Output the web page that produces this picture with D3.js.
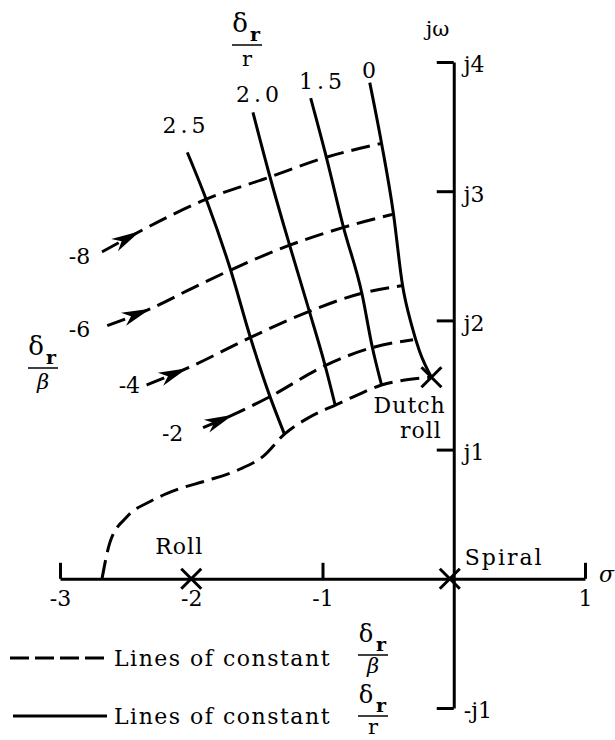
<!DOCTYPE html>
<html>
<head>
<meta charset="utf-8">
<script src="https://cdn.jsdelivr.net/npm/d3@7"></script>
<style>
body { margin: 0; background: #fff; }
text { font-family: "DejaVu Serif", serif; fill: #000; }
</style>
</head>
<body>
<div id="chart"></div>
<script>
let margin = {top: 62, right: 30, left: 60, bottom: 32};
let width = 615;
let height = 740;

// axis ticks
let sigmaTicks = [-3, -2, -1, 1];
let omegaTicks = [-1, 1, 2, 3, 4];
let omegaLabels = ["-j1", "j1", "j2", "j3", "j4"];

// poles (sigma, omega)
let poles = [[-2, 0], [-0.03, 0], [-0.17, 1.56]];

// lines of constant dr/r (solid)
let rValues = ["2.5", "2.0", "1.5", "0"];
let rLine25 = [[-2.03, 3.30], [-1.88, 2.92], [-1.70, 2.39], [-1.55, 1.87], [-1.40, 1.41], [-1.29, 1.12]];
let rLine20 = [[-1.53, 3.61], [-1.40, 3.11], [-1.25, 2.58], [-1.10, 2.07], [-0.98, 1.65], [-0.905, 1.35]];
let rLine15 = [[-1.09, 3.72], [-0.97, 3.26], [-0.84, 2.72], [-0.70, 2.21], [-0.62, 1.79], [-0.55, 1.50]];
let rLine0 = [[-0.64, 3.84], [-0.55, 3.37], [-0.46, 2.83], [-0.39, 2.27], [-0.32, 1.96], [-0.26, 1.76], [-0.17, 1.56]];
// label anchors for the solid lines
let rLabelPos = [[-2.04, 3.45], [-1.48, 3.69], [-1.0, 3.79], [-0.63, 3.88]];

// lines of constant dr/beta (dashed)
let bValues = ["-8", "-6", "-4", "-2"];
let bLine8 = [[-2.68, 2.53], [-2.39, 2.69], [-2.16, 2.81], [-1.88, 2.94], [-1.40, 3.11], [-0.98, 3.26], [-0.55, 3.37]];
let bLine6 = [[-2.64, 1.96], [-2.31, 2.09], [-2.03, 2.23], [-1.70, 2.39], [-1.255, 2.58], [-0.84, 2.72], [-0.47, 2.82]];
let bLine4 = [[-2.34, 1.50], [-2.03, 1.63], [-1.545, 1.87], [-1.10, 2.07], [-0.70, 2.21], [-0.39, 2.27]];
let bLine2 = [[-1.91, 1.17], [-1.68, 1.27], [-1.40, 1.41], [-0.98, 1.65], [-0.62, 1.79], [-0.31, 1.85]];
let bLine0 = [[-2.68, 0.0], [-2.62, 0.28], [-2.49, 0.48], [-2.31, 0.60], [-2.11, 0.69], [-1.88, 0.76], [-1.65, 0.84],
              [-1.45, 0.95], [-1.29, 1.12], [-1.10, 1.25], [-0.89, 1.35], [-0.74, 1.42], [-0.55, 1.50], [-0.36, 1.54], [-0.17, 1.56]];
let bLabelPos = [[-2.77, 2.44], [-2.77, 1.87], [-2.39, 1.44], [-2.06, 1.07]];

let svg = d3.select("#chart")
    .append("svg")
    .attr("width", width)
    .attr("height", height);

let x = d3.scaleLinear()
    .domain([-3, 1])
    .range([margin.left, width - margin.right]);
let y = d3.scaleLinear()
    .domain([-1, 4])
    .range([height - margin.bottom, margin.top]);

// sigma axis, ticks pointing up
let xAxis = d3.axisBottom(x)
    .tickValues(sigmaTicks)
    .tickSizeInner(-16)
    .tickSizeOuter(0)
    .tickPadding(9)
    .tickFormat(d => d < 0 ? "-" + Math.abs(d) : d);

let gx = svg.append("g")
    .attr("transform", "translate(0," + y(0) + ")")
    .call(xAxis);
gx.selectAll(".tick").filter(d => d === -2).select("line").remove();

// j-omega axis, ticks pointing left, labels right
let yAxis = d3.axisRight(y)
    .tickValues(omegaTicks)
    .tickSizeInner(-17)
    .tickSizeOuter(0)
    .tickPadding(10)
    .tickFormat((d, i) => omegaLabels[i]);

let gy = svg.append("g")
    .attr("transform", "translate(" + x(0) + ",0)")
    .call(yAxis);

[gx, gy].forEach(g => {
    g.select(".domain").attr("stroke-width", 3);
    g.selectAll(".tick line").attr("stroke-width", 3);
    g.selectAll("text")
        .style("font-family", "DejaVu Serif")
        .style("font-size", "22px")
        .attr("fill", "#000");
});
gy.selectAll("text").attr("dy", "0.45em");
gx.selectAll("text").attr("dy", "0.85em");

svg.append("text").attr("x", x(1) + 14).attr("y", y(0) + 3)
    .style("font-size", "22px").style("font-style", "italic").text("σ");
svg.append("text").attr("x", x(0) - 28).attr("y", 36)
    .style("font-size", "21px").text("jω");

let line = d3.line()
    .x(d => x(d[0]))
    .y(d => y(d[1]))
    .curve(d3.curveMonotoneX);

let solidLines = [rLine25, rLine20, rLine15, rLine0];
let dashedLines = [bLine8, bLine6, bLine4, bLine2, bLine0];

svg.selectAll(".solid")
    .data(solidLines)
    .enter()
    .append("path")
    .attr("class", "solid")
    .attr("d", line)
    .attr("fill", "none")
    .attr("stroke", "#000")
    .attr("stroke-width", 3);

svg.selectAll(".dashed")
    .data(dashedLines)
    .enter()
    .append("path")
    .attr("class", "dashed")
    .attr("d", line)
    .attr("fill", "none")
    .attr("stroke", "#000")
    .attr("stroke-width", 3)
    .attr("stroke-dasharray", "19,8");

// arrowheads on the incoming dashed lines (tip at the second point)
[bLine8, bLine6, bLine4, bLine2].forEach(pts => {
    let a = pts[0], b = pts[1];
    let ang = Math.atan2(y(b[1]) - y(a[1]), x(b[0]) - x(a[0])) * 180 / Math.PI;
    svg.append("path")
        .attr("d", "M0,0L-29,-7L-21,0L-29,7Z")
        .attr("transform", "translate(" + x(b[0]) + "," + y(b[1]) + ") rotate(" + ang + ")")
        .attr("fill", "#000");
});

// labels
svg.selectAll(".rlab")
    .data(rValues)
    .enter()
    .append("text")
    .attr("x", (d, i) => x(rLabelPos[i][0]))
    .attr("y", (d, i) => y(rLabelPos[i][1]))
    .attr("text-anchor", "middle")
    .style("font-size", "22px")
    .style("letter-spacing", "4px")
    .text(d => d);

svg.selectAll(".blab")
    .data(bValues)
    .enter()
    .append("text")
    .attr("x", (d, i) => x(bLabelPos[i][0]))
    .attr("y", (d, i) => y(bLabelPos[i][1]))
    .attr("text-anchor", "end")
    .style("font-size", "22px")
    .text(d => d);

// poles
poles.forEach(p => {
    let cx = x(p[0]), cy = y(p[1]), s = 10;
    svg.append("path")
        .attr("d", "M" + (cx - s) + "," + (cy - s) + "L" + (cx + s) + "," + (cy + s) +
                   "M" + (cx - s) + "," + (cy + s) + "L" + (cx + s) + "," + (cy - s))
        .attr("stroke", "#000")
        .attr("stroke-width", 3);
});

svg.append("text").attr("x", x(-2) - 12).attr("y", y(0) - 25)
    .attr("text-anchor", "middle").style("font-size", "22px").style("letter-spacing", "1px").text("Roll");
svg.append("text").attr("x", x(0) + 11).attr("y", y(0) - 14)
    .style("font-size", "22px").style("letter-spacing", "2px").text("Spiral");
svg.append("text").attr("x", x(0) - 8).attr("y", 413)
    .attr("text-anchor", "end").style("font-size", "22px").style("letter-spacing", "1px").text("Dutch");
svg.append("text").attr("x", x(0) - 12).attr("y", 438)
    .attr("text-anchor", "end").style("font-size", "22px").style("letter-spacing", "1px").text("roll");

function frac(cx, ly, denom, dy, size) {
    let g = svg.append("g").attr("transform", "translate(" + cx + "," + ly + ")");
    g.append("text").attr("x", -7).attr("y", -13).attr("text-anchor", "middle")
        .style("font-size", size + "px").text("δ");
    g.append("text").attr("x", 8).attr("y", -4).attr("text-anchor", "middle")
        .style("font-size", "19px").style("font-weight", "bold").text("r");
    g.append("line").attr("x1", -15).attr("x2", 15)
        .attr("stroke", "#000").attr("stroke-width", 1.5);
    g.append("text").attr("x", 0).attr("y", dy).attr("text-anchor", "middle")
        .style("font-size", "21px")
        .style("font-style", denom === "β" ? "italic" : "normal")
        .text(denom);
}

frac(247, 45, "r", 21, 26);
frac(43, 368, "β", 21, 26);

// legend
svg.append("line").attr("x1", 10).attr("x2", 107).attr("y1", 658).attr("y2", 658)
    .attr("stroke", "#000").attr("stroke-width", 3).attr("stroke-dasharray", "19,6");
svg.append("line").attr("x1", 13).attr("x2", 107).attr("y1", 716).attr("y2", 716)
    .attr("stroke", "#000").attr("stroke-width", 3);
svg.append("text").attr("x", 114).attr("y", 666)
    .style("font-size", "22px").style("letter-spacing", "1.5px").text("Lines of constant");
svg.append("text").attr("x", 114).attr("y", 724)
    .style("font-size", "22px").style("letter-spacing", "1.5px").text("Lines of constant");
frac(373, 655, "β", 18, 24);
frac(373, 716, "r", 18, 24);
</script>
</body>
</html>
